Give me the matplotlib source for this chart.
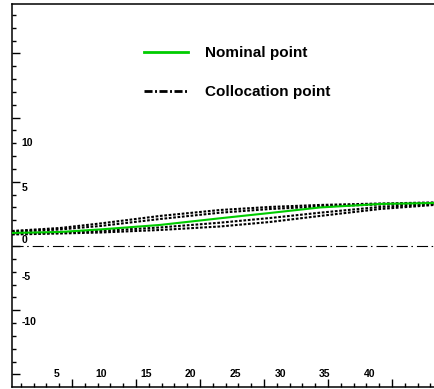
import numpy as np
import matplotlib
matplotlib.use("Agg")
import matplotlib.pyplot as plt
from matplotlib.lines import Line2D

plt.rcParams['font.family'] = ['Liberation Sans', 'DejaVu Sans']

# ---- data ----
x = [0.0, 5.37, 9.84, 16.55, 23.27, 28.86, 34.45, 41.16, 47.2]
nominal = [0.07, 0.18, 0.46, 0.96, 1.70, 2.29, 2.90, 3.29, 3.40]
colloc_1 = [0.29, 0.62, 1.12, 1.96, 2.62, 2.96, 3.18, 3.34, 3.46]
colloc_2 = [0.18, 0.46, 0.84, 1.62, 2.32, 2.73, 3.01, 3.23, 3.40]
colloc_3 = [0.01, 0.12, 0.29, 0.68, 1.21, 1.73, 2.32, 2.96, 3.29]
colloc_4 = [-0.10, 0.01, 0.12, 0.40, 0.79, 1.29, 1.96, 2.73, 3.18]
colloc_series = [colloc_1, colloc_2, colloc_3, colloc_4]
ref_level = -1.38

x_tick_labels = [5, 10, 15, 20, 25, 30, 35, 40]
y_tick_labels = [10, 5, 0, -5, -10]
y_tick_label_at = [10.1, 5.1, -0.7, -4.85, -9.85]
legend_labels = ["Nominal point", "Collocation point"]

# ---- figure ----
W, H, DPI = 434, 389, 100
fig = plt.figure(figsize=(W / DPI, H / DPI), dpi=DPI)
left = 12 / W
bottom = 2 / H
top = 4 / H
ax = fig.add_axes([left, bottom, 1.0 - left + 0.05, 1.0 - bottom - top])

xlim = (0.0, 47.2 * (1.0 - left + 0.05) / (1.0 - left))
ylim = (-17.04, 25.5)

green = '#00cc00'
for s in colloc_series:
    ax.plot(x, s, color='black', lw=1.5, ls=(0, (1.3, 0.8)), zorder=3)
ax.plot(x, nominal, color=green, lw=1.5, zorder=4)
ax.axhline(ref_level, color='black', lw=0.8, ls=(0, (10, 3.2, 1.4, 3.6)), zorder=2)

# spines
for side in ['left', 'top', 'bottom']:
    ax.spines[side].set_linewidth(1.1)
ax.spines['right'].set_visible(False)

# ticks (Tecplot-like, inward, no labels)
ymaj_step = 7.13
xmaj_step = 7.16
ymaj = ref_level + ymaj_step * np.arange(-3, 5)
ymin = ref_level + ymaj_step / 5 * np.arange(-15, 25)
xmaj = 6.71 + xmaj_step * np.arange(0, 7)
xmin = 6.71 + xmaj_step / 5 * np.arange(-4, 30)
ax.set_yticks(ymaj)
ax.set_yticks(ymin, minor=True)
ax.set_xticks(xmaj)
ax.set_xticks(xmin, minor=True)
ax.set_ylim(*ylim)
ax.set_xlim(*xlim)
ax.tick_params(which='both', direction='in', labelleft=False, labelbottom=False,
               top=False, right=False, width=1.0)
ax.tick_params(which='major', length=5.5)
ax.tick_params(which='minor', length=3.2)

# tick labels drawn inside the frame
for v, pos in zip(y_tick_labels, y_tick_label_at):
    ax.text(1.08, pos, str(v), ha='left', va='center', fontsize=7.5, fontweight='bold')
for v in x_tick_labels:
    ax.text(v, -15.6, str(v), ha='center', va='center', fontsize=7.5, fontweight='bold')

handles = [
    Line2D([], [], color=green, lw=2.0),
    Line2D([], [], color='black', lw=2.0, ls=(0, (2.9, 0.9, 0.7, 0.9))),
]
ax.legend(handles, legend_labels, loc='upper left',
          bbox_to_anchor=(144 / W, 1.0 - 46.5 / H), bbox_transform=fig.transFigure,
          frameon=False, borderpad=0, borderaxespad=0, handlelength=2.9,
          handletextpad=1.1, labelspacing=1.6,
          prop={'family': 'Liberation Sans', 'weight': 'bold', 'size': 11})

fig.savefig('out.png', dpi=DPI)
